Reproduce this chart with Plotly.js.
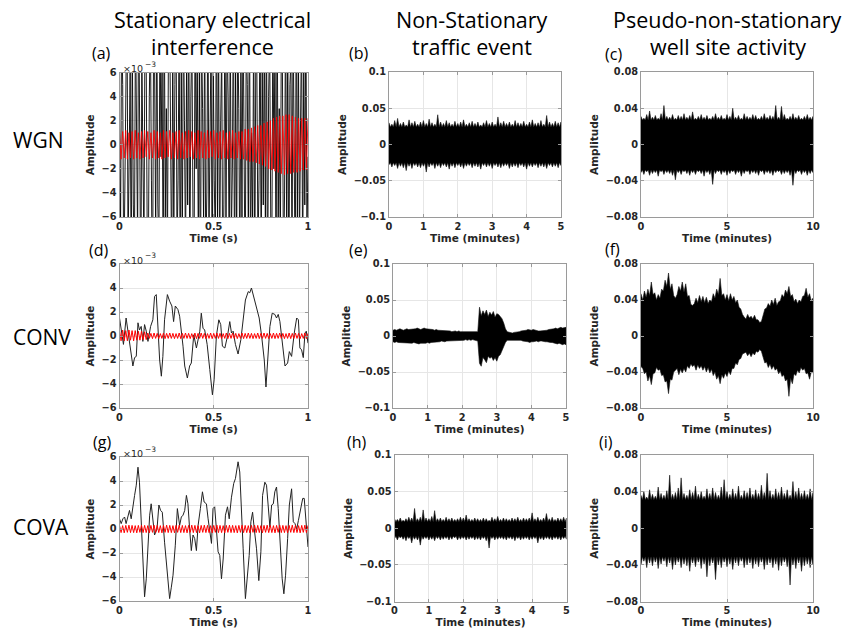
<!DOCTYPE html>
<html>
<head>
<meta charset="utf-8">
<script src="https://cdn.plot.ly/plotly-3.0.1.min.js"></script>
<style>html,body{margin:0;padding:0;background:#fff;}#plot{width:843px;height:634px;}</style>
</head>
<body>
<div id="plot"></div>
<script>
// ---------- DATA ----------
// (a) WGN – stationary electrical interference (x1e-3), black noise and red interference
const aBlack = [2,-7,10,5,-11,-4,8,13,-9,-2,6,-12,9,-5,-10,11,3,-8,14,-6,-13,7,1,-9,12,8,-7,-11,4,10,-3,-14,9,6,-8,12,-5,-9,11,-1,7,-12,13,-6,3,-10,9,12,-4,-11,8,-7,5,14,-9,-3,10,-13,6,-8,11,2,-10,7,-5,13,-12,4,9,-6,-11,12,-2,8,-9,6,-14,10,3,-7,11,-10,-4,13,-8,5,9,-12,7,-3,-9,14,-6,10,-11,2,8,-13,-5,12,-7,9,4,-10,11,-8,-2,13,-12,6,-9,10,3,-11,7,-6,12,-4,-13,9,5,-8,14,-10,1,-7,11,-12,8,6,-9,-3,13,-11,7,-5,10,-8,12,-14,4,9,-6,-10,11,-2,8,-12,13,-7,3,-9,10,6,-11,-4,12,-8,9,-13,5,7,-10,11,-3,-12,14,-6,8,-9,2,10,-11,7,-5,12,-8,-1];
const aRed = [1.0,-1.2,1.1,-1.1,1.2,-1.2,1.0,-1.1,1.1,-1.2,
 1.2,-1.1,1.0,-1.2,1.1,-1.1,1.2,-1.0,1.1,-1.2,
 1.0,-1.1,1.2,-1.2,1.1,-1.1,1.0,-1.2,1.2,-1.1,
 1.1,-1.0,1.2,-1.2,1.0,-1.1,1.1,-1.2,1.2,-1.1,
 1.0,-1.2,1.1,-1.1,1.2,-1.0,1.1,-1.2,1.0,-1.1,
 1.2,-1.2,1.1,-1.1,1.0,-1.2,1.2,-1.1,1.1,-1.0,
 1.2,-1.2,1.0,-1.1,1.1,-1.2,1.2,-1.1,1.0,-1.2,
 1.1,-1.1,1.2,-1.2,1.0,-1.1,1.1,-1.2,1.1,
 -1.2,1.3,-1.3,1.3,-1.4,1.4,-1.4,1.5,-1.5,1.6,-1.6,1.6,
 -1.7,1.8,-1.8,1.9,-2.0,2.0,
 -2.1,2.2,-2.2,2.3,-2.3,2.4,-2.4,2.4,-2.5,2.5,-2.4,2.5,
 -2.4,2.4,-2.3,2.3,-2.3,2.2,-2.2,2.2,-2.1,2.2,-2.1,2.2];

// (d) CONV – stationary (x1e-3)
const dT = [0,.012,.021,.035,.044,.053,.062,.071,.080,.089,.098,.106,.115,.124,.133,.142,.151,.165,.177,.186,.195,.204,.213,.222,.230,.239,.254,.266,.278,.287,.296,.310,.319,.337,.346,.360,.372,.381,.394,.408,.426,.434,.443,.452,.465,.479,.493,.502,.514,.527,.537,.546,.559,.573,.585,.594,.603,.615,.629,.644,.656,.668,.683,.691,.700,.715,.727,.741,.754,.768,.777,.785,.798,.810,.824,.833,.842,.851,.860,.869,.878,.892,.901,.913,.927,.940,.949,.957,.966,.975,.984,.991,1.0];
const dV = [1.5,0.1,-0.7,1.5,0.5,-0.85,-1.7,-2.5,-1.8,-1.7,1.1,0.5,0.8,-0.45,0.95,0.4,-0.45,0.8,1.35,3.3,3.45,0.8,-2.0,-3.35,-1.7,1.35,3.45,2.9,2.5,1.2,2.5,2.2,1.65,-0.85,-2.5,-3.5,-2.5,-2.25,0.1,-1.0,0.4,1.9,0.65,0.5,-0.7,-2.8,-4.9,-3.65,0,1.35,0.95,-0.85,-1.0,0,1.2,0.25,0.4,-0.7,-1.5,-0.3,1.5,3.0,3.7,3.6,4.0,3.15,2.35,1.5,0,-2.0,-4.25,-2.5,0.8,1.9,1.8,1.5,1.8,1.2,0,-1.3,-2.5,-2.25,-1.3,-1.7,0.25,1.5,1.35,-1.0,-1.15,-1.8,0.25,0.4,-0.6];
const dRed = [0.5,-0.4,0.5,-0.4,0.45,-0.4,0.5,-0.35,0.45,-0.4,0.45,-0.35,0.4,-0.35,0.4,-0.3,0.35,-0.3,
 0.25,-0.2,0.22,-0.22,0.25,-0.2,0.22,-0.22,0.2,-0.2,0.25,-0.22,0.22,-0.2,0.25,-0.2,0.22,-0.22,0.2,-0.2,
 0.25,-0.22,0.22,-0.2,0.25,-0.2,0.22,-0.22,0.2,-0.2,0.25,-0.22,0.22,-0.2,0.25,-0.2,0.22,-0.22,0.2,-0.2,
 0.25,-0.22,0.22,-0.2,0.25,-0.2,0.22,-0.22,0.2,-0.2,0.25,-0.22,0.22,-0.2,0.25,-0.2,0.22,-0.22,0.2,-0.2,
 0.25,-0.22,0.22,-0.2,0.25,-0.2,0.22,-0.22,0.2,-0.2,0.25,-0.22,0.22,-0.2,0.25,-0.2,0.22,-0.22,0.2,-0.2,
 0.25,-0.22,0.22,-0.2,0.25,-0.2,0.22,-0.22,0.2,-0.2,0.25,-0.22,0.22,-0.2,0.25,-0.2,0.22,-0.22,0.2,-0.2,
 0.25,-0.22,0.22];

// (g) COVA – stationary (x1e-3)
const gT = [0,.009,.018,.027,.035,.044,.053,.062,.071,.080,.089,.098,.106,.115,.124,.133,.142,.151,.160,.168,.177,.186,.199,.209,.218,.227,.239,.248,.257,.266,.275,.284,.296,.307,.319,.328,.337,.346,.355,.363,.372,.381,.390,.399,.408,.417,.429,.440,.449,.461,.470,.479,.488,.496,.505,.514,.523,.532,.541,.550,.562,.573,.582,.594,.606,.615,.629,.638,.647,.656,.668,.679,.688,.697,.706,.715,.727,.739,.750,.759,.771,.780,.789,.798,.807,.816,.824,.833,.842,.851,.863,.872,.881,.892,.901,.913,.922,.931,.940,.949,.961,.972,.980,.988,1.0];
const gV = [0.85,0.45,0.85,1.0,0.45,1.0,1.55,0.85,2.1,2.8,3.65,5.15,3.9,0.85,-3.0,-5.65,-4.15,-1.65,1.15,2.1,0.85,-0.5,0,2.0,1.55,1.4,-1.1,-2.5,-4.15,-5.8,-4.85,-3.85,-1.35,1.7,0.3,1.0,1.15,1.55,2.8,2.1,0,-1.8,-0.5,-0.8,-1.8,0.3,1.7,3.1,2.25,2.1,0.85,-0.4,-1.2,1.7,1.85,0,-1.9,-2.2,-4.15,-2.5,1.15,1.85,0.85,2.65,3.8,4.2,5.6,4.75,2.0,-1.65,-5.8,-4.15,-2.2,0.6,1.4,0,-1.65,-4.3,-1.9,2.8,3.9,3.65,1.7,0.15,2.0,2.1,3.1,3.5,1.7,-1.1,-4.15,-5.4,-3.85,-0.8,2.0,3.35,0.6,0.45,0,0.7,1.55,2.55,2.55,0.85,-1.5];
const gRed = [0.3,-0.3,0.28,-0.32,0.3,-0.28,0.32,-0.3,0.3,-0.3,0.28,-0.32,0.3,-0.28,0.32,-0.3,0.3,-0.3,0.28,-0.32,
 0.3,-0.28,0.32,-0.3,0.3,-0.3,0.28,-0.32,0.3,-0.28,0.32,-0.3,0.3,-0.3,0.28,-0.32,0.3,-0.28,0.32,-0.3,
 0.3,-0.3,0.28,-0.32,0.3,-0.28,0.32,-0.3,0.3,-0.3,0.28,-0.32,0.3,-0.28,0.32,-0.3,0.3,-0.3,0.28,-0.32,
 0.3,-0.28,0.32,-0.3,0.3,-0.3,0.28,-0.32,0.3,-0.28,0.32,-0.3,0.3,-0.3,0.28,-0.32,0.3,-0.28,0.32,-0.3,
 0.3,-0.3,0.28,-0.32,0.3,-0.28,0.32,-0.3,0.3,-0.3,0.28,-0.32,0.3,-0.28,0.32,-0.3,0.3,-0.3,0.28,-0.32,
 0.3,-0.28,0.32,-0.3,0.3,-0.3,0.28,-0.32,0.3,-0.28,0.32,-0.3,0.3,-0.3,0.28,-0.32,0.3,-0.28,0.32,-0.3,0.3];

// Non-stationary / pseudo-non-stationary noise: spike envelopes and solid-core levels
const bUp = [0.030,0.028,0.033,0.036,0.029,0.031,0.027,0.034,0.030,0.032,0.028,0.031,0.033,0.029,0.035,0.030,0.028,0.041,0.031,0.029,0.033,0.030,0.028,0.032,0.029,0.031,0.034,0.028,0.030,0.032,0.029,0.031,0.027,0.030,0.033,0.029,0.031,0.028,0.038,0.030,0.032,0.029,0.031,0.028,0.033,0.030,0.029,0.032,0.028,0.031,0.034,0.029,0.030,0.033,0.028,0.040,0.031,0.029,0.032,0.030,0.031];
const bLo = [-0.028,-0.031,-0.029,-0.033,-0.030,-0.032,-0.036,-0.030,-0.033,-0.029,-0.031,-0.032,-0.030,-0.038,-0.031,-0.029,-0.033,-0.030,-0.032,-0.029,-0.031,-0.034,-0.030,-0.032,-0.029,-0.031,-0.033,-0.030,-0.029,-0.032,-0.030,-0.031,-0.034,-0.029,-0.031,-0.030,-0.033,-0.029,-0.031,-0.032,-0.030,-0.029,-0.033,-0.031,-0.030,-0.032,-0.029,-0.031,-0.034,-0.030,-0.031,-0.029,-0.032,-0.030,-0.031,-0.033,-0.029,-0.031,-0.030,-0.032,-0.029];
const bCore = [0.024, -0.025];
const cUp = [0.031,0.029,0.033,0.037,0.030,0.032,0.029,0.034,0.043,0.031,0.030,0.033,0.029,0.032,0.031,0.034,0.030,0.032,0.036,0.029,0.031,0.033,0.030,0.032,0.029,0.031,0.034,0.030,0.032,0.029,0.033,0.031,0.040,0.030,0.032,0.029,0.034,0.031,0.030,0.033,0.032,0.029,0.031,0.034,0.030,0.032,0.031,0.043,0.030,0.042,0.033,0.029,0.031,0.034,0.030,0.032,0.029,0.031,0.033,0.030,0.031];
const cLo = [-0.031,-0.033,-0.030,-0.034,-0.032,-0.031,-0.035,-0.030,-0.033,-0.031,-0.032,-0.034,-0.039,-0.031,-0.033,-0.030,-0.032,-0.034,-0.031,-0.033,-0.030,-0.032,-0.035,-0.031,-0.033,-0.044,-0.032,-0.030,-0.033,-0.031,-0.034,-0.032,-0.030,-0.033,-0.031,-0.035,-0.032,-0.030,-0.033,-0.031,-0.032,-0.034,-0.030,-0.033,-0.031,-0.032,-0.034,-0.031,-0.030,-0.033,-0.032,-0.031,-0.034,-0.045,-0.032,-0.030,-0.033,-0.031,-0.034,-0.032,-0.031];
const cCore = [0.027, -0.028];
const eUp = [0.008,0.009,0.008,0.009,0.010,0.009,0.008,0.009,0.010,0.009,0.009,
 0.010,0.009,0.010,0.011,0.010,0.009,0.010,0.011,0.010,0.010,0.009,0.010,0.009,0.008,0.009,0.008,
 0.008,0.007,0.008,0.007,0.007,0.008,0.007,0.006,0.007,0.007,0.006,0.007,0.006,0.006,
 0.005,0.006,0.005,0.005,0.006,0.005,0.005,0.006,0.006,
 0.040,0.028,0.035,0.030,0.036,0.027,0.033,0.029,0.034,0.026,0.031,0.030,0.027,0.024,0.018,0.010,0.006,
 0.005,0.005,0.004,0.005,0.005,0.006,0.006,0.007,0.007,0.008,
 0.008,0.009,0.008,0.008,0.009,0.008,0.007,0.007,0.007,0.007,
 0.007,0.008,0.008,0.009,0.009,0.010,0.010,0.011,0.010,0.011,0.012,0.011,0.012,0.012];
const eLo = [-0.008,-0.009,-0.008,-0.009,-0.009,-0.010,-0.009,-0.009,-0.010,-0.009,-0.010,
 -0.010,-0.009,-0.010,-0.010,-0.011,-0.010,-0.009,-0.010,-0.010,-0.009,-0.010,-0.009,-0.009,-0.008,-0.008,-0.008,
 -0.008,-0.007,-0.007,-0.008,-0.007,-0.007,-0.006,-0.007,-0.007,-0.006,-0.006,-0.007,-0.006,-0.006,
 -0.006,-0.005,-0.006,-0.005,-0.006,-0.005,-0.006,-0.006,-0.007,
 -0.038,-0.042,-0.030,-0.033,-0.037,-0.028,-0.031,-0.029,-0.034,-0.030,-0.035,-0.028,-0.026,-0.022,-0.015,-0.009,-0.006,
 -0.005,-0.005,-0.005,-0.005,-0.006,-0.005,-0.006,-0.006,-0.007,-0.007,
 -0.008,-0.008,-0.009,-0.008,-0.008,-0.008,-0.007,-0.008,-0.007,-0.007,
 -0.007,-0.008,-0.008,-0.008,-0.009,-0.009,-0.010,-0.010,-0.011,-0.010,-0.011,-0.012,-0.011,-0.012];
const fUp = [0.047,0.040,0.050,0.043,0.052,0.045,0.060,0.046,0.048,0.040,0.046,0.042,0.052,0.050,0.062,0.055,0.070,0.052,0.058,0.045,
 0.042,0.046,0.055,0.050,0.060,0.049,0.058,0.044,0.045,0.035,0.034,0.036,0.042,0.037,0.045,0.038,0.044,0.037,0.043,0.036,
 0.040,0.038,0.047,0.042,0.052,0.046,0.064,0.045,0.047,0.040,0.046,0.039,0.047,0.040,0.044,0.037,0.040,0.032,0.030,0.024,
 0.021,0.019,0.024,0.020,0.022,0.019,0.023,0.018,0.018,0.015,0.016,0.022,0.030,0.031,0.036,0.033,0.040,0.035,0.042,0.034,
 0.038,0.039,0.046,0.043,0.051,0.047,0.055,0.044,0.046,0.038,0.041,0.036,0.040,0.038,0.044,0.045,0.053,0.043,0.047,0.039,0.042];
const fLo = [-0.034,-0.036,-0.042,-0.040,-0.050,-0.044,-0.054,-0.042,-0.041,-0.035,-0.038,-0.037,-0.044,-0.043,-0.051,-0.050,-0.064,-0.048,-0.049,-0.040,
 -0.038,-0.036,-0.043,-0.037,-0.041,-0.036,-0.040,-0.033,-0.036,-0.031,-0.034,-0.032,-0.038,-0.032,-0.036,-0.033,-0.038,-0.034,-0.040,-0.035,
 -0.041,-0.037,-0.044,-0.040,-0.048,-0.044,-0.053,-0.043,-0.047,-0.041,-0.045,-0.039,-0.043,-0.036,-0.036,-0.030,-0.032,-0.026,-0.025,-0.020,
 -0.019,-0.018,-0.022,-0.019,-0.023,-0.019,-0.021,-0.017,-0.018,-0.015,-0.017,-0.024,-0.030,-0.029,-0.035,-0.031,-0.037,-0.033,-0.038,-0.036,
 -0.042,-0.039,-0.045,-0.043,-0.050,-0.048,-0.067,-0.047,-0.053,-0.042,-0.044,-0.038,-0.041,-0.035,-0.038,-0.036,-0.042,-0.041,-0.048,-0.040,-0.041];
const hUp = [0.013,0.012,0.014,0.011,0.013,0.015,0.014,0.027,0.013,0.015,0.025,0.014,0.013,0.016,0.024,0.013,0.014,0.012,0.015,0.013,0.014,0.012,0.013,0.015,0.014,0.018,0.013,0.012,0.014,0.013,0.012,0.014,0.013,0.011,0.015,0.013,0.016,0.012,0.014,0.013,0.012,0.014,0.013,0.015,0.012,0.014,0.013,0.014,0.021,0.013,0.015,0.012,0.014,0.020,0.013,0.015,0.012,0.014,0.013,0.015,0.014];
const hLo = [-0.014,-0.016,-0.013,-0.015,-0.017,-0.014,-0.020,-0.015,-0.016,-0.023,-0.015,-0.014,-0.016,-0.015,-0.017,-0.014,-0.016,-0.015,-0.014,-0.016,-0.015,-0.013,-0.016,-0.015,-0.014,-0.016,-0.015,-0.014,-0.016,-0.015,-0.016,-0.014,-0.017,-0.027,-0.014,-0.016,-0.015,-0.014,-0.015,-0.016,-0.014,-0.015,-0.017,-0.014,-0.016,-0.015,-0.014,-0.016,-0.015,-0.014,-0.020,-0.015,-0.016,-0.014,-0.015,-0.016,-0.014,-0.015,-0.016,-0.014,-0.015];
const hCore = [0.009, -0.011];
const iUp = [0.036,0.040,0.034,0.042,0.037,0.035,0.045,0.038,0.036,0.041,0.058,0.037,0.039,0.044,0.055,0.038,0.036,0.042,0.039,0.046,0.037,0.040,0.035,0.043,0.038,0.044,0.039,0.036,0.045,0.053,0.040,0.037,0.043,0.038,0.046,0.036,0.041,0.039,0.044,0.037,0.042,0.038,0.047,0.039,0.060,0.041,0.037,0.043,0.039,0.045,0.038,0.042,0.036,0.051,0.040,0.044,0.038,0.041,0.037,0.043,0.039];
const iLo = [-0.040,-0.036,-0.043,-0.038,-0.041,-0.037,-0.044,-0.039,-0.036,-0.042,-0.038,-0.045,-0.040,-0.037,-0.043,-0.039,-0.041,-0.047,-0.038,-0.042,-0.037,-0.044,-0.039,-0.053,-0.041,-0.038,-0.056,-0.040,-0.043,-0.037,-0.042,-0.039,-0.045,-0.038,-0.041,-0.036,-0.043,-0.040,-0.038,-0.044,-0.039,-0.042,-0.037,-0.045,-0.040,-0.038,-0.043,-0.039,-0.046,-0.041,-0.037,-0.042,-0.062,-0.040,-0.044,-0.038,-0.047,-0.041,-0.039,-0.043,-0.040];
const iCore = [0.031, -0.031];

// Text
const colTitles = [["Stationary electrical","interference"],["Non-Stationary","traffic event"],["Pseudo-non-stationary","well site activity"]];
const rowLabels = ["WGN","CONV","COVA"];
const panelLabels = ["(a)","(b)","(c)","(d)","(e)","(f)","(g)","(h)","(i)"];
const xTitles = ["Time (s)","Time (minutes)","Time (minutes)"];
const yTitle = "Amplitude";
const expBase = "\u00d710", expPow = "\u22123";
const xTickVals = [[0,0.5,1],[0,1,2,3,4,5],[0,5,10]];
const xTickText = [["0","0.5","1"],["0","1","2","3","4","5"],["0","5","10"]];
const yTickVals = [[-6,-4,-2,0,2,4,6],[-0.1,-0.05,0,0.05,0.1],[-0.08,-0.04,0,0.04,0.08]];
const yTickText = [["\u22126","\u22124","\u22122","0","2","4","6"],["\u22120.1","\u22120.05","0","0.05","0.1"],["\u22120.08","\u22120.04","0","0.04","0.08"]];
const xRanges = [[0,1],[0,5],[0,10]];
const yRanges = [[-6,6],[-0.1,0.1],[-0.08,0.08]];

// ---------- LAYOUT GEOMETRY ----------
const W = 843, H = 634;
const px = x => x / W, py = y => 1 - y / H;
const boxes = [
  [119.5,308,72.5,217],[389,561,72,217],[641,813,72,217],
  [119.5,308,264,408],[393,566,264,408],[641,813,264,408],
  [119.5,308,457,601],[394.5,566.5,455,601.5],[641,813,455,601.5]
];
const panelPos = [[101,53],[359,53],[613,54],[99,250],[358,250],[612,249],[102,442],[357,442],[606,442]];

const tickFont = {family:"DejaVu Sans", size:9.8, color:"#262626", weight:"bold"};
const titleFont = {family:"DejaVu Sans", size:10.5, color:"#262626", weight:"bold"};

const layout = {
  width: W, height: H, margin:{l:0,r:0,t:0,b:0},
  paper_bgcolor:"#fff", plot_bgcolor:"#fff", showlegend:false,
  annotations: []
};

boxes.forEach((b, i) => {
  const c = i % 3;
  const sx = i === 0 ? "" : String(i + 1);
  layout["xaxis" + sx] = {
    domain:[px(b[0]), px(b[1])], anchor:"y" + sx, range:xRanges[c],
    tickmode:"array", tickvals:xTickVals[c], ticktext:xTickText[c],
    showline:true, mirror:"ticks", linecolor:"#9a9a9a", linewidth:1,
    ticks:"inside", ticklen:3, tickcolor:"#9a9a9a",
    showgrid:true, gridcolor:"#e6e6e6", gridwidth:1, zeroline:false,
    tickfont:tickFont, title:{text:xTitles[c], font:titleFont, standoff:3}
  };
  layout["yaxis" + sx] = {
    domain:[py(b[3]), py(b[2])], anchor:"x" + sx, range:yRanges[c],
    tickmode:"array", tickvals:yTickVals[c], ticktext:yTickText[c],
    showline:true, mirror:"ticks", linecolor:"#9a9a9a", linewidth:1,
    ticks:"inside", ticklen:3, tickcolor:"#9a9a9a",
    showgrid:true, gridcolor:"#e6e6e6", gridwidth:1, zeroline:false,
    tickfont:tickFont, title:{text:yTitle, font:titleFont, standoff:4}
  };
});

// ---------- TRACES ----------
const traces = [];
const ax = i => (i === 0 ? "" : String(i + 1));
const lin = (n, dur) => Array.from({length:n}, (_, k) => k * dur / (n - 1));

function line(x, y, i, color, width) {
  traces.push({type:"scatter", mode:"lines", x:x, y:y, xaxis:"x" + ax(i), yaxis:"y" + ax(i),
    line:{color:color, width:width}, hoverinfo:"skip"});
}
// edge path: spikes at the read envelope values, dipping to the read core level between samples
function edge(vals, dur, core) {
  const t = lin(vals.length, dur), dt = dur / (vals.length - 1);
  const xs = [], ys = [];
  vals.forEach((v, k) => {
    xs.push(t[k]); ys.push(v);
    if (core !== undefined && k < vals.length - 1) { xs.push(t[k] + dt / 2); ys.push(core); }
  });
  return [xs, ys];
}
function band(up, lo, dur, i, core) {
  const [xu, yu] = edge(up, dur, core ? core[0] : undefined);
  const [xl, yl] = edge(lo, dur, core ? core[1] : undefined);
  traces.push({type:"scatter", mode:"lines", x:xu.concat(xl.slice().reverse()), y:yu.concat(yl.slice().reverse()),
    fill:"toself", fillcolor:"#000", xaxis:"x" + ax(i), yaxis:"y" + ax(i),
    line:{color:"#111", width:0.6}, hoverinfo:"skip"});
}

// (a)
line(lin(aBlack.length, 1), aBlack, 0, "#000", 0.9);
line(lin(aRed.length, 1), aRed, 0, "rgba(255,0,0,0.85)", 1);
// (b),(c)
band(bUp, bLo, 5, 1, bCore);
band(cUp, cLo, 10, 2, cCore);
// (d)
line(dT, dV, 3, "#222", 1);
line(lin(dRed.length, 1), dRed, 3, "#ff0000", 1);
// (e),(f)
band(eUp, eLo, 5, 4);
band(fUp, fLo, 10, 5);
// (g)
line(gT, gV, 6, "#222", 1);
line(lin(gRed.length, 1), gRed, 6, "#ff0000", 1);
// (h),(i)
band(hUp, hLo, 5, 7, hCore);
band(iUp, iLo, 10, 8, iCore);

// ---------- ANNOTATIONS ----------
const ann = (x, y, text, font, xa) => layout.annotations.push({
  xref:"paper", yref:"paper", x:px(x), y:py(y), text:text, showarrow:false,
  xanchor:xa || "center", yanchor:"middle", font:font
});
const bigFont = {family:"Open Sans", size:21.5, color:"#000"};
const colX = [[212,212],[472,472],[727,728]];
colTitles.forEach((t, c) => { ann(colX[c][0], 19, t[0], bigFont); ann(colX[c][1], 47, t[1], bigFont); });
[140, 337, 527].forEach((y, r) => ann(11, y, rowLabels[r], {family:"Open Sans", size:21, color:"#000"}, "left"));
panelLabels.forEach((t, i) => ann(panelPos[i][0], panelPos[i][1], t, {family:"Open Sans", size:16, color:"#000"}));
[68, 260, 453].forEach(y => {
  ann(121, y, expBase, {family:"DejaVu Sans", size:9.5, color:"#262626"}, "left");
  ann(143, y - 4, expPow, {family:"DejaVu Sans", size:7.5, color:"#262626"}, "left");
});

Plotly.newPlot("plot", traces, layout, {staticPlot:true, displayModeBar:false});
</script>
</body>
</html>
